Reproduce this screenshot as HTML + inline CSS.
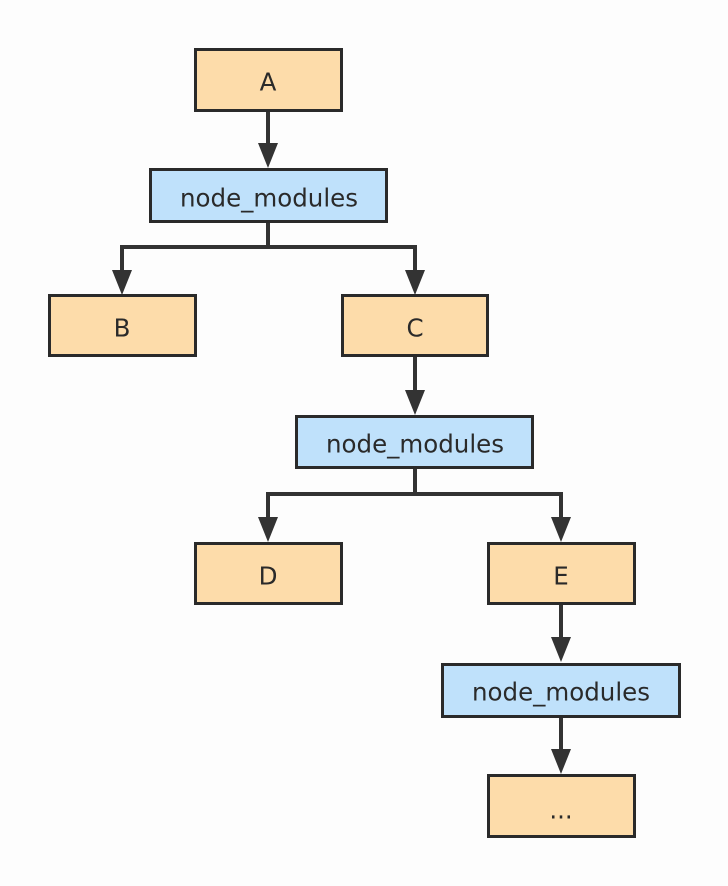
<!DOCTYPE html>
<html><head><meta charset="utf-8"><style>
html,body{margin:0;padding:0;background:#fdfdfd;}
svg{display:block;}
text{font-family:"DejaVu Sans","Liberation Sans",sans-serif;font-size:24.5px;fill:#2a2a2a;text-anchor:middle;dominant-baseline:central;}
</style></head><body>
<svg width="728" height="886" viewBox="0 0 728 886" xmlns="http://www.w3.org/2000/svg">
<rect width="728" height="886" fill="#fdfdfd"/>
<g stroke="#333" stroke-width="4" fill="none">
<line x1="268" y1="111" x2="268" y2="148"/>
<polyline points="268,222 268,247"/>
<polyline points="122,274 122,247 415,247 415,274"/>
<line x1="415" y1="356" x2="415" y2="395"/>
<polyline points="415,468 415,494"/>
<polyline points="268,522 268,494 561,494 561,522"/>
<line x1="561" y1="604" x2="561" y2="642"/>
<line x1="561" y1="717" x2="561" y2="754"/>
</g>
<g fill="#333">
<polygon points="258,143 278,143 268,168"/>
<polygon points="112,270 132,270 122,295"/>
<polygon points="405,270 425,270 415,295"/>
<polygon points="405,390 425,390 415,415"/>
<polygon points="258,517 278,517 268,542"/>
<polygon points="551,517 571,517 561,542"/>
<polygon points="551,637 571,637 561,662"/>
<polygon points="551,749 571,749 561,774"/>
</g>
<g stroke="#2a2a2a" stroke-width="3">
<rect x="195.5" y="49.5" width="146" height="61" fill="#fddcaa"/>
<rect x="150.5" y="169.5" width="236" height="52" fill="#bfe1fb"/>
<rect x="49.5" y="295.5" width="146" height="60" fill="#fddcaa"/>
<rect x="342.5" y="295.5" width="145" height="60" fill="#fddcaa"/>
<rect x="296.5" y="416.5" width="236" height="51" fill="#bfe1fb"/>
<rect x="195.5" y="543.5" width="146" height="60" fill="#fddcaa"/>
<rect x="488.5" y="543.5" width="146" height="60" fill="#fddcaa"/>
<rect x="442.5" y="664.5" width="237" height="52" fill="#bfe1fb"/>
<rect x="488.5" y="775.5" width="146" height="61" fill="#fddcaa"/>
</g>
<text x="268" y="82">A</text>
<text x="269" y="198">node_modules</text>
<text x="122" y="328">B</text>
<text x="415" y="328">C</text>
<text x="415" y="444">node_modules</text>
<text x="268" y="576">D</text>
<text x="561" y="576">E</text>
<text x="561" y="692">node_modules</text>
<text x="561" y="810">...</text>
</svg>
</body></html>
